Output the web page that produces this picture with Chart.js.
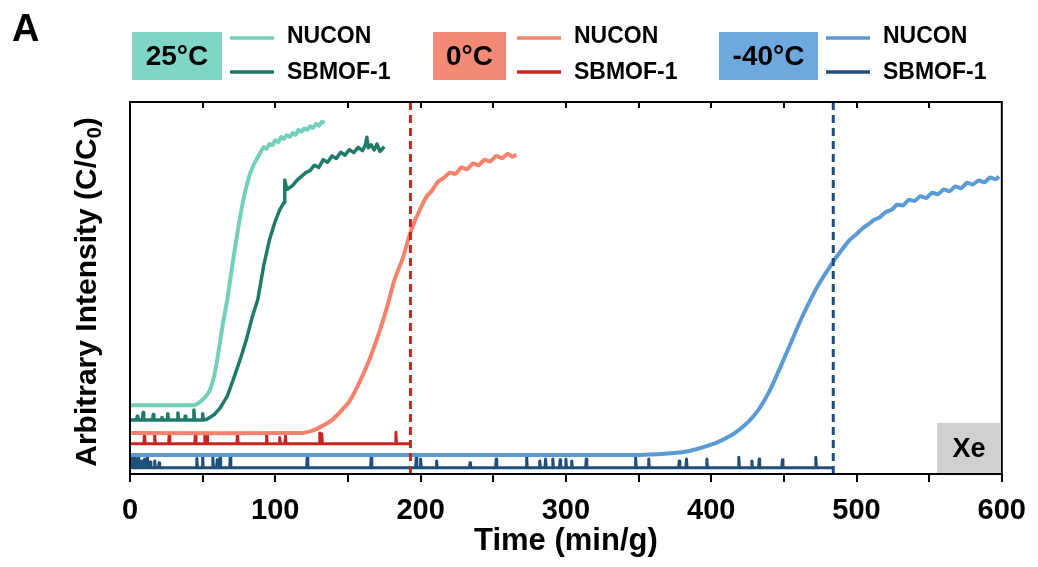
<!DOCTYPE html>
<html>
<head>
<meta charset="utf-8">
<script src="https://cdn.jsdelivr.net/npm/chart.js@4.4.1/dist/chart.umd.min.js"></script>
<style>
  html, body { margin: 0; padding: 0; background: #fff; }
  #wrap { width: 1038px; height: 567px; position: relative; }
</style>
</head>
<body>
<div id="wrap"><canvas id="grafico" width="1038" height="567"></canvas></div>
<script>
// ---- datos (x = min/g, y = intensidad relativa 0..1) ----
const ticksX = [0, 100, 200, 300, 400, 500, 600];

// 25 °C NUCON
const nucon25T = [0, 44, 48, 52, 55, 58, 61, 64, 67, 70, 74, 78, 82, 85, 88, 90, 92, 94, 96, 98, 100, 102, 104, 106, 108, 110, 112, 114, 116, 118, 120, 122, 124, 126, 128, 130, 132, 134];
const nucon25V = [0.185, 0.185, 0.193, 0.208, 0.226, 0.265, 0.33, 0.406, 0.47, 0.55, 0.65, 0.737, 0.8, 0.83, 0.852, 0.866, 0.879, 0.874, 0.887, 0.884, 0.897, 0.892, 0.906, 0.901, 0.911, 0.906, 0.917, 0.912, 0.925, 0.92, 0.929, 0.925, 0.935, 0.93, 0.941, 0.936, 0.947, 0.944];

// 25 °C SBMOF-1 (línea base con picos + subida)
const sb25Base = 0.145;
const sb25SpikeT = [5, 9, 16, 22, 26, 33, 38, 44, 50];
const sb25SpikeH = [0.155, 0.165, 0.16, 0.152, 0.162, 0.164, 0.155, 0.172, 0.162];
const sb25T = [53, 58, 62, 67, 71, 76, 80, 84, 88, 92, 96, 100, 103, 106, 106.5, 108, 110, 112, 115, 118, 121, 124, 127, 130, 133, 136, 139, 142, 145, 148, 151, 154, 157, 160, 162, 163, 164, 166, 168, 170, 172, 175];
const sb25V = [0.147, 0.16, 0.177, 0.21, 0.253, 0.31, 0.36, 0.42, 0.47, 0.56, 0.63, 0.68, 0.71, 0.73, 0.79, 0.765, 0.77, 0.776, 0.79, 0.8, 0.81, 0.816, 0.83, 0.824, 0.845, 0.838, 0.855, 0.848, 0.865, 0.857, 0.872, 0.864, 0.878, 0.869, 0.885, 0.905, 0.877, 0.885, 0.871, 0.887, 0.867, 0.88];

// 0 °C NUCON
const nucon0T = [0, 117, 125, 131, 138, 144, 151, 158, 165, 172, 177, 182, 188, 192, 196, 200, 204, 208, 212, 216, 220, 224, 228, 232, 236, 240, 244, 248, 252, 256, 260, 263, 266];
const nucon0V = [0.11, 0.11, 0.116, 0.126, 0.142, 0.164, 0.195, 0.247, 0.31, 0.387, 0.45, 0.522, 0.583, 0.637, 0.68, 0.715, 0.745, 0.763, 0.786, 0.796, 0.81, 0.807, 0.824, 0.819, 0.835, 0.83, 0.845, 0.84, 0.855, 0.849, 0.861, 0.853, 0.858];

// 0 °C SBMOF-1
const sb0Base = 0.081;
const sb0End = 193;
const sb0SpikeT = [10, 17, 27, 45, 51.5, 53, 74, 94, 103, 107, 130.6, 132, 183];
const sb0SpikeH = [0.11, 0.105, 0.11, 0.11, 0.11, 0.105, 0.11, 0.11, 0.098, 0.102, 0.11, 0.108, 0.112];

// -40 °C NUCON
const nucon40T = [0, 346, 370, 385, 401, 412, 419, 426, 433, 440, 447, 454, 460, 467, 474, 483, 489, 495, 500, 504, 508, 512, 516, 520, 524, 528, 532, 536, 540, 544, 548, 552, 556, 560, 564, 568, 572, 576, 580, 584, 588, 592, 596, 598];
const nucon40V = [0.051, 0.051, 0.055, 0.062, 0.08, 0.1, 0.118, 0.142, 0.175, 0.222, 0.282, 0.345, 0.4, 0.458, 0.51, 0.565, 0.598, 0.628, 0.645, 0.66, 0.671, 0.683, 0.69, 0.704, 0.71, 0.724, 0.722, 0.737, 0.734, 0.747, 0.742, 0.756, 0.752, 0.765, 0.76, 0.773, 0.768, 0.783, 0.778, 0.789, 0.784, 0.797, 0.792, 0.8];

// -40 °C SBMOF-1
const sb40Base = 0.017;
const sb40End = 484;
const sb40SpikeT = [1, 2, 3, 4.5, 6, 8, 10, 12, 14, 17, 20, 46, 50, 57, 60, 62, 69, 122, 166, 197, 200, 211, 234, 252, 273, 282, 286, 291, 296, 300, 304, 314, 348, 357, 378, 383, 397, 419, 428, 433, 449, 472];
const sb40SpikeH = [0.05, 0.045, 0.048, 0.04, 0.045, 0.035, 0.04, 0.045, 0.032, 0.035, 0.03, 0.042, 0.045, 0.045, 0.038, 0.045, 0.045, 0.05, 0.045, 0.045, 0.04, 0.035, 0.03, 0.04, 0.045, 0.035, 0.04, 0.04, 0.038, 0.04, 0.035, 0.04, 0.045, 0.04, 0.035, 0.04, 0.04, 0.045, 0.035, 0.04, 0.038, 0.045];

// líneas verticales punteadas (tiempo de ruptura)
const corte0 = 193;
const corte40 = 484;

const colores = {
    n25: '#73cfba', s25: '#1f7a69',
    n0: '#f5826c', s0: '#c92420',
    n40: '#5b9bd5', s40: '#1f4e79'
};

function puntos(t, v) {
    return t.map((x, i) => ({ x, y: v[i] }));
}

// base con picos cortos, luego la cola
function lineaConPicos(base, spikeT, spikeH, colaT, colaV) {
    const pts = [{ x: 0, y: base }];
    spikeT.forEach((t, i) => {
        pts.push({ x: t - 0.4, y: base });
        pts.push({ x: t, y: spikeH[i] });
        pts.push({ x: t + 0.4, y: base });
    });
    return pts.concat(puntos(colaT, colaV));
}

const FUENTE = '"Liberation Sans", Arial, sans-serif';

// marco, marcas superiores, leyenda y etiqueta Xe
const pluginDecoracion = {
    id: 'pluginDecoracion',
    afterDraw(chart) {
        const { ctx, chartArea: ca, scales: { x } } = chart;
        ctx.save();

        // marco
        ctx.strokeStyle = '#000';
        ctx.lineWidth = 2;
        ctx.strokeRect(ca.left, ca.top, ca.right - ca.left, ca.bottom - ca.top);

        // marcas hacia dentro arriba
        for (let v = 50; v < 600; v += 50) {
            const px = Math.round(x.getPixelForValue(v));
            ctx.beginPath();
            ctx.moveTo(px, ca.top);
            ctx.lineTo(px, ca.top + 6);
            ctx.stroke();
        }

        // caja Xe
        ctx.fillStyle = '#d0d0d0';
        ctx.fillRect(937, 423, ca.right - 1 - 937, ca.bottom - 1 - 423);
        ctx.fillStyle = '#000';
        ctx.font = 'bold 27px ' + FUENTE;
        ctx.textAlign = 'center';
        ctx.textBaseline = 'middle';
        ctx.fillText('Xe', 969, 450);

        // título eje Y con subíndice
        ctx.translate(88, (ca.top + ca.bottom) / 2 + 4);
        ctx.rotate(-Math.PI / 2);
        ctx.font = 'bold 30px ' + FUENTE;
        const parte1 = 'Arbitrary Intensity (C/C';
        const w1 = ctx.measureText(parte1).width;
        ctx.font = 'bold 20px ' + FUENTE;
        const w2 = ctx.measureText('0').width;
        ctx.font = 'bold 30px ' + FUENTE;
        const w3 = ctx.measureText(')').width;
        let xs = -(w1 + w2 + w3) / 2;
        ctx.textAlign = 'left';
        ctx.textBaseline = 'middle';
        ctx.fillText(parte1, xs, 0);
        ctx.font = 'bold 20px ' + FUENTE;
        ctx.fillText('0', xs + w1, 7);
        ctx.font = 'bold 30px ' + FUENTE;
        ctx.fillText(')', xs + w1 + w2, 0);
        ctx.setTransform(1, 0, 0, 1, 0, 0);

        // letra del panel
        ctx.font = 'bold 38px ' + FUENTE;
        ctx.textAlign = 'left';
        ctx.textBaseline = 'middle';
        ctx.fillText('A', 12, 31);

        // leyenda
        const grupos = [
            { tag: '25°C', caja: '#80d6c6', x0: 132, w: 90, lx: 230, tx: 287, c1: colores.n25, c2: colores.s25 },
            { tag: '0°C', caja: '#f28a75', x0: 433, w: 73, lx: 517, tx: 574, c1: colores.n0, c2: colores.s0 },
            { tag: '-40°C', caja: '#6fa8dc', x0: 719, w: 99, lx: 826, tx: 883, c1: colores.n40, c2: colores.s40 }
        ];
        grupos.forEach(g => {
            ctx.fillStyle = g.caja;
            ctx.fillRect(g.x0, 32, g.w, 48);
            ctx.fillStyle = '#000';
            ctx.font = 'bold 28px ' + FUENTE;
            ctx.textAlign = 'center';
            ctx.fillText(g.tag, g.x0 + g.w / 2, 57);

            ctx.lineWidth = 3.5;
            ctx.strokeStyle = g.c1;
            ctx.beginPath(); ctx.moveTo(g.lx, 38); ctx.lineTo(g.lx + 44, 38); ctx.stroke();
            ctx.strokeStyle = g.c2;
            ctx.beginPath(); ctx.moveTo(g.lx, 72); ctx.lineTo(g.lx + 44, 72); ctx.stroke();

            ctx.fillStyle = '#000';
            ctx.font = 'bold 23px ' + FUENTE;
            ctx.textAlign = 'left';
            ctx.fillText('NUCON', g.tx, 37);
            ctx.fillText('SBMOF-1', g.tx, 73);
        });

        ctx.restore();
    }
};

const serieBase = { pointRadius: 0, fill: false, borderJoinStyle: 'round' };

const ctx = document.getElementById('grafico').getContext('2d');
new Chart(ctx, {
    type: 'line',
    data: {
        datasets: [
            { ...serieBase, data: [{ x: corte0, y: 0 }, { x: corte0, y: 1 }], borderColor: colores.s0, borderWidth: 3, borderDash: [8, 5] },
            { ...serieBase, data: [{ x: corte40, y: 0 }, { x: corte40, y: 1 }], borderColor: colores.s40, borderWidth: 3, borderDash: [8, 5] },
            { ...serieBase, data: puntos(nucon25T, nucon25V), borderColor: colores.n25, borderWidth: 4, tension: 0.15 },
            { ...serieBase, data: lineaConPicos(sb25Base, sb25SpikeT, sb25SpikeH, sb25T, sb25V), borderColor: colores.s25, borderWidth: 3.5 },
            { ...serieBase, data: puntos(nucon0T, nucon0V), borderColor: colores.n0, borderWidth: 4, tension: 0.15 },
            { ...serieBase, data: lineaConPicos(sb0Base, sb0SpikeT, sb0SpikeH, [sb0End], [sb0Base]), borderColor: colores.s0, borderWidth: 3 },
            { ...serieBase, data: puntos(nucon40T, nucon40V), borderColor: colores.n40, borderWidth: 4, tension: 0.15 },
            { ...serieBase, data: lineaConPicos(sb40Base, sb40SpikeT, sb40SpikeH, [sb40End], [sb40Base]), borderColor: colores.s40, borderWidth: 3 }
        ]
    },
    options: {
        responsive: false,
        animation: false,
        events: [],
        layout: { padding: { left: 70, top: 102, right: 35, bottom: 7 } },
        plugins: { legend: { display: false }, tooltip: { enabled: false } },
        scales: {
            x: {
                type: 'linear',
                min: 0, max: 600,
                afterFit: s => { s.height = 86; },
                afterBuildTicks: s => { s.ticks = []; for (let v = 0; v <= 600; v += 50) s.ticks.push({ value: v }); },
                ticks: {
                    color: '#000',
                    padding: 12,
                    maxRotation: 0,
                    autoSkip: false,
                    font: { family: FUENTE, size: 29, weight: 'bold' },
                    callback: v => ticksX.includes(v) ? String(v) : ''
                },
                grid: { drawOnChartArea: false, color: '#000', lineWidth: 2, tickLength: 8 },
                border: { color: '#000', width: 2 },
                title: { display: true, text: 'Time (min/g)', color: '#000', padding: { top: 0, bottom: 0 }, font: { family: FUENTE, size: 31, weight: 'bold' } }
            },
            y: {
                type: 'linear',
                min: 0, max: 1,
                afterFit: s => { s.width = 60; },
                ticks: { display: false },
                grid: { display: false },
                border: { color: '#000', width: 2 }
            }
        }
    },
    plugins: [pluginDecoracion]
});
</script>
</body>
</html>
